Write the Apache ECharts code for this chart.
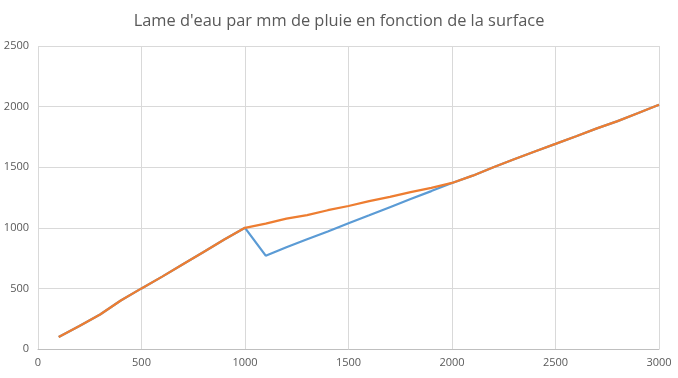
<!DOCTYPE html>
<html><head><meta charset="utf-8">
<script src="https://cdn.jsdelivr.net/npm/echarts@6/dist/echarts.min.js"></script>
<style>html,body{margin:0;padding:0;background:#fff}#c{width:678px;height:378px}</style>
</head><body><div id="c"></div>
<script>
var titleText = "Lame d'eau par mm de pluie en fonction de la surface";
var surfaces = [100,200,300,400,500,600,700,800,900,1000,1100,1200,1300,1400,1500,1600,1700,1800,1900,2000,2100,2200,2300,2400,2500,2600,2700,2800,2900,3000];
var blueValues = [100,190,285,400,500,597,699,800,903,1000,770,840,905,970,1037,1103,1170,1237,1303,1370,1430,1500,1565,1630,1692,1755,1820,1880,1947,2015];
var orangeValues = [100,190,285,400,500,597,699,800,903,1000,1035,1075,1105,1145,1180,1220,1255,1295,1330,1370,1430,1500,1565,1630,1692,1755,1820,1880,1947,2015];
var xTicks = {min:0, max:3000, interval:500};
var yTicks = {min:0, max:2500, interval:500};

function pairs(xs, ys){ return xs.map(function(x,i){return [x, ys[i]];}); }
function plain(v){ return String(v); }

var chart = echarts.init(document.getElementById('c'));
chart.setOption({
  animation:false,
  title:{text:titleText,left:'center',top:8,textStyle:{fontFamily:'Open Sans',fontSize:16.4,fontWeight:'normal',color:'#595959'}},
  grid:{left:38,right:19,top:46,bottom:29,containLabel:false},
  xAxis:{type:'value',min:xTicks.min,max:xTicks.max,interval:xTicks.interval,
    axisLine:{show:true,lineStyle:{color:'#bfbfbf'}},axisTick:{show:false},
    axisLabel:{color:'#595959',fontFamily:'Open Sans',fontSize:11,margin:8,formatter:plain},
    splitLine:{show:true,lineStyle:{color:'#d9d9d9'}}},
  yAxis:{type:'value',min:yTicks.min,max:yTicks.max,interval:yTicks.interval,
    axisLine:{show:false},axisTick:{show:false},
    axisLabel:{color:'#595959',fontFamily:'Open Sans',fontSize:11,margin:9,formatter:plain},
    splitLine:{show:true,lineStyle:{color:'#d9d9d9'}}},
  series:[
    {type:'line',data:pairs(surfaces,blueValues),showSymbol:false,lineStyle:{color:'#5B9BD5',width:2.25},itemStyle:{color:'#5B9BD5'},z:2},
    {type:'line',data:pairs(surfaces,orangeValues),showSymbol:false,lineStyle:{color:'#ED7D31',width:2.25},itemStyle:{color:'#ED7D31'},z:3}
  ]
});
</script></body></html>
